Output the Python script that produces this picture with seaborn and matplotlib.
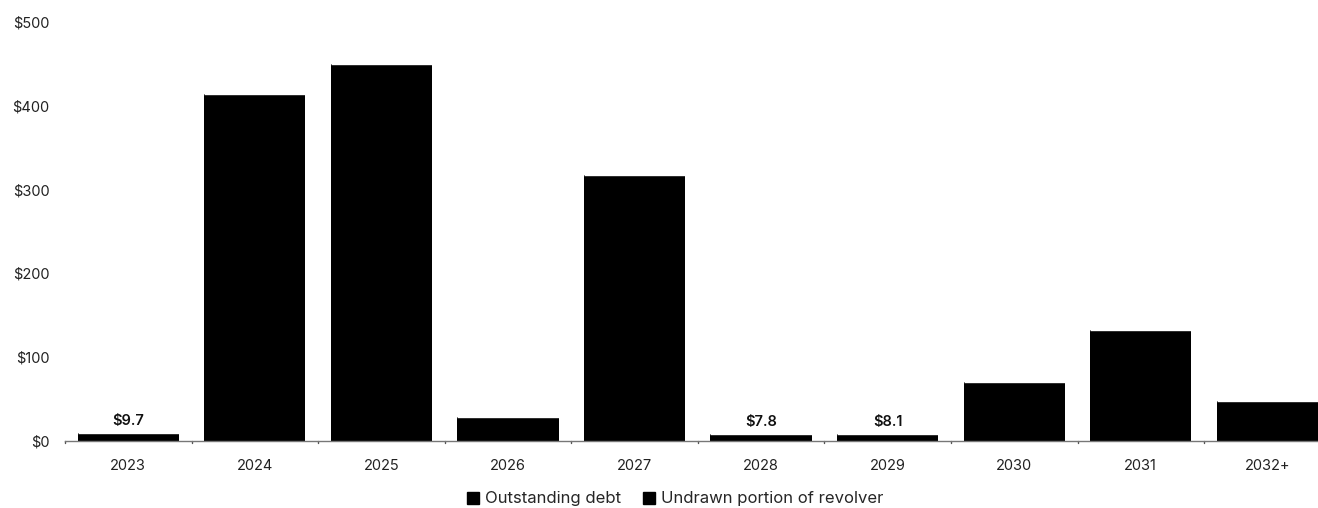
import matplotlib
matplotlib.use("Agg")
import matplotlib.pyplot as plt
import seaborn as sns
import pandas as pd
from matplotlib.lines import Line2D

years = ["2023", "2024", "2025", "2026", "2027", "2028", "2029", "2030", "2031", "2032+"]
outstanding = [9.7, 414, 450, 29, 318, 7.8, 8.1, 70, 132, 48]
undrawn = [0, 0, 0, 0, 0, 0, 0, 0, 0, 0]
labels = {0: "$9.7", 5: "$7.8", 6: "$8.1"}
yticks = [0, 100, 200, 300, 400, 500]

sns.set_theme(style="white")
plt.rcParams["font.family"] = ["Inter", "DejaVu Sans"]

fig = plt.figure(figsize=(13.18, 5.08), dpi=100)
ax = fig.add_axes([65 / 1318, 1 - 441 / 508, (1318 - 65) / 1318, (441 - 22) / 508])

df = pd.DataFrame({"year": years, "value": outstanding})
sns.barplot(data=df, x="year", y="value", color="black", width=0.8, ax=ax,
            saturation=1, edgecolor="none")
ax.bar(range(len(years)), undrawn, bottom=outstanding, width=0.8, color="black")

ax.set_xlim(-0.5, 9.4)
ax.set_ylim(0, 500)
ax.set_yticks(yticks)
ax.set_yticklabels([f"${v}" for v in yticks], fontsize=10.5, color="#222222")
ax.tick_params(axis="y", length=0, pad=11)
ax.tick_params(axis="x", length=0, pad=13, labelsize=10.5, labelcolor="#222222")
for s in ["top", "right", "left"]:
    ax.spines[s].set_visible(False)
ax.spines["bottom"].set_color("#777777")
ax.spines["bottom"].set_linewidth(1)
ax.set_xlabel("")
ax.set_ylabel("")

for b in [i - 0.5 for i in range(len(years))]:
    ax.plot([b, b], [0, -1.6 * 500 / 419], color="#555555", lw=1, clip_on=False)

for i, t in labels.items():
    ax.text(i, outstanding[i] + 6, t, ha="center", va="bottom", fontsize=10.5,
            fontweight="semibold", color="#111111")

handles = [Line2D([], [], marker="s", color="black", linestyle="none", markersize=9),
           Line2D([], [], marker="s", color="black", linestyle="none", markersize=9)]
fig.legend(handles, ["Outstanding debt", "Undrawn portion of revolver"], loc="center",
           bbox_to_anchor=(674 / 1318, 1 - 499 / 508), ncol=2, frameon=False,
           fontsize=12, handletextpad=0.2, columnspacing=1.2, handlelength=1)

fig.savefig("out.png", dpi=100)
